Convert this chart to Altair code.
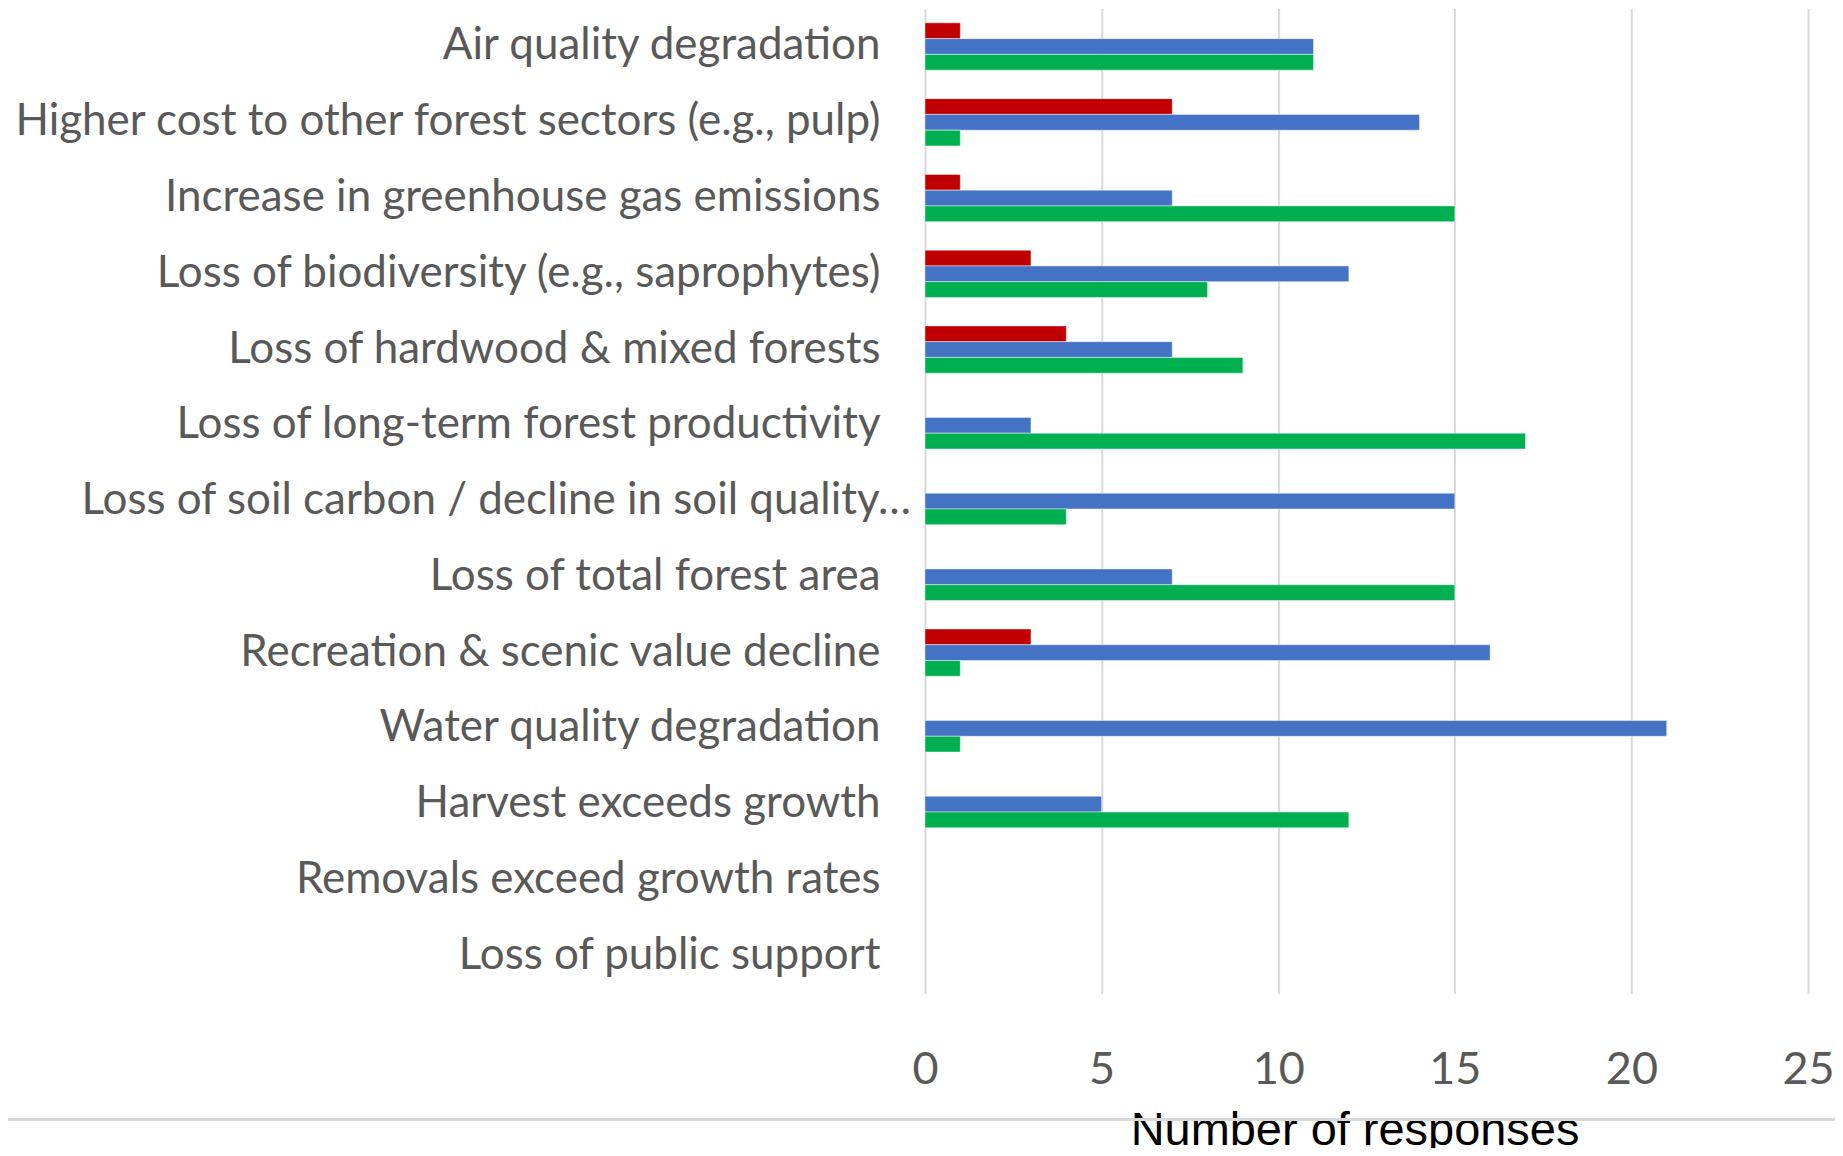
import altair as alt
import pandas as pd

categories = [
    "Air quality degradation",
    "Higher cost to other forest sectors (e.g., pulp)",
    "Increase in greenhouse gas emissions",
    "Loss of biodiversity (e.g., saprophytes)",
    "Loss of hardwood & mixed forests",
    "Loss of long-term forest productivity",
    "Loss of soil carbon / decline in soil quality…",
    "Loss of total forest area",
    "Recreation & scenic value decline",
    "Water quality degradation",
    "Harvest exceeds growth",
    "Removals exceed growth rates",
    "Loss of public support",
]
truncated_label = "Loss of soil carbon / decline in soil quality…"
series_names = ["Series 1", "Series 2", "Series 3"]
series_colors = ["#C00000", "#4472C4", "#00B050"]

red_values = [1, 7, 1, 3, 4, 0, 0, 0, 3, 0, 0, 0, 0]
blue_values = [11, 14, 7, 12, 7, 3, 15, 7, 16, 21, 5, 0, 0]
green_values = [11, 1, 15, 8, 9, 17, 4, 15, 1, 1, 12, 0, 0]

x_ticks = [0, 5, 10, 15, 20, 25]

rows = []
for s, vals in zip(series_names, [red_values, blue_values, green_values]):
    for c, v in zip(categories, vals):
        rows.append({"category": c, "series": s, "value": v})
df = pd.DataFrame(rows)
cat_df = pd.DataFrame({"category": categories})

W, H = 884, 986
PAD_L, PAD_R, PAD_T, PAD_B = 918, 27, 0, 154
LABEL_FONT = "Lato"
LABEL_SIZE = 44

y_scale = alt.Scale(domain=categories, paddingInner=0.376, paddingOuter=0.188)

bars = alt.Chart(df).transform_filter(alt.datum.value > 0).mark_bar(
    stroke="white", strokeOpacity=0.45, strokeWidth=1
).encode(
    y=alt.Y(
        "category:N",
        sort=categories,
        scale=y_scale,
        axis=alt.Axis(
            title=None,
            ticks=False,
            tickSize=0,
            domain=False,
            labelFont=LABEL_FONT,
            labelFontSize=LABEL_SIZE,
            labelColor="#595959",
            labelPadding=45,
            labelLimit=1000,
            labelExpr=f"datum.value == '{truncated_label}' ? '' : datum.value",
        ),
    ),
    yOffset=alt.YOffset("series:N", sort=series_names,
                        scale=alt.Scale(domain=series_names, paddingInner=0, paddingOuter=0)),
    x=alt.X(
        "value:Q",
        scale=alt.Scale(domain=[0, 25], nice=False),
        axis=alt.Axis(
            values=x_ticks,
            title="Number of responses",
            titleFont="Liberation Sans",
            titleFontSize=47,
            titleFontWeight="normal",
            titleColor="#000000",
            titleBaseline="alphabetic",
            titleAlign="center",
            titleX=430,
            titleY=151,
            ticks=False,
            tickSize=0,
            domain=False,
            grid=True,
            gridColor="#D9D9D9",
            gridWidth=2,
            labelFont=LABEL_FONT,
            labelFontSize=45,
            labelColor="#595959",
            labelBaseline="alphabetic",
            labelFlush=False,
            labelPadding=90,
        ),
    ),
    color=alt.Color("series:N", scale=alt.Scale(domain=series_names, range=series_colors), legend=None),
)

# the one over-long category label, which sticks out further right as in the original
long_label = alt.Chart(cat_df).transform_filter(
    alt.datum.category == truncated_label
).mark_text(
    align="right", baseline="middle", font=LABEL_FONT, fontSize=LABEL_SIZE, color="#595959"
).encode(
    y=alt.Y("category:N", sort=categories, scale=y_scale),
    x=alt.value(-14),
    text="category:N",
)

sep_line = alt.Chart(pd.DataFrame({"k": [0]})).mark_rule(color="#D9D9D9", strokeWidth=3).encode(
    y=alt.value(1112), x=alt.value(-PAD_L), x2=alt.value(W + PAD_R)
)

chart = alt.layer(bars, long_label, sep_line).properties(
    width=W,
    height=H,
    padding={"left": PAD_L, "right": PAD_R, "top": PAD_T, "bottom": PAD_B},
    autosize=alt.AutoSizeParams(type="none"),
).configure(background="white").configure_view(stroke=None)

chart.save("out.html", embed_options={"renderer": "svg", "actions": False})
